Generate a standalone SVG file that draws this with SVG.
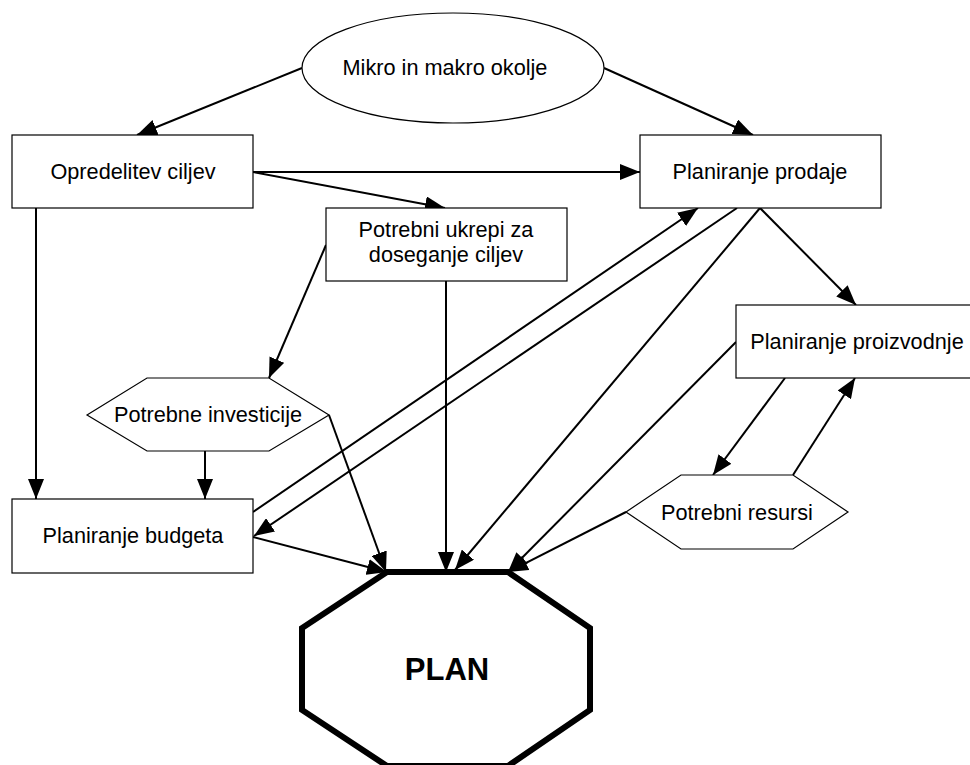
<svg xmlns="http://www.w3.org/2000/svg" width="970" height="765" viewBox="0 0 970 765">
  <style>
    .box { fill: #ffffff; stroke: #000000; stroke-width: 1.2; }
    .lbl { font-family: "Liberation Sans", Arial, sans-serif; font-size: 21.7px; fill: #000000; text-anchor: middle; }
    .big { font-family: "Liberation Sans", Arial, sans-serif; font-size: 31px; font-weight: bold; fill: #000000; text-anchor: middle; }
    .edge { stroke: #000000; stroke-width: 2; fill: none; marker-end: url(#head); }
  </style>
  <defs>
    <marker id="head" markerUnits="userSpaceOnUse" markerWidth="21" markerHeight="16" viewBox="0 0 21 16" refX="20" refY="8" orient="auto">
      <path d="M0,0 L20,8 L0,16 Z" fill="#000000"/>
    </marker>
  </defs>
  <rect width="970" height="765" fill="#ffffff"/>

  <!-- connectors -->
  <g id="connectors">
    <line class="edge" x1="302" y1="68" x2="137" y2="135"/>
    <line class="edge" x1="604" y1="68" x2="753" y2="135"/>
    <line class="edge" x1="253" y1="172" x2="640" y2="172"/>
    <line class="edge" x1="253" y1="172" x2="445" y2="208"/>
    <line class="edge" x1="36" y1="208" x2="36" y2="499"/>
    <line class="edge" x1="326" y1="245" x2="269" y2="378"/>
    <line class="edge" x1="446" y1="281" x2="446" y2="572"/>
    <line class="edge" x1="205" y1="451" x2="205" y2="499"/>
    <line class="edge" x1="329" y1="415" x2="386" y2="572"/>
    <line class="edge" x1="253" y1="537" x2="387" y2="572"/>
    <line class="edge" x1="253" y1="512" x2="698" y2="208"/>
    <line class="edge" x1="737" y1="208" x2="254" y2="536"/>
    <line class="edge" x1="760" y1="208" x2="455" y2="570"/>
    <line class="edge" x1="760" y1="208" x2="856" y2="305"/>
    <line class="edge" x1="736" y1="342" x2="508" y2="572"/>
    <line class="edge" x1="785" y1="378" x2="713" y2="475"/>
    <line class="edge" x1="793" y1="475" x2="855" y2="378"/>
    <line class="edge" x1="626" y1="512" x2="508" y2="572"/>
  </g>

  <g id="okolje">
    <ellipse class="box" cx="453" cy="68" rx="151" ry="55"/>
    <text class="lbl" x="445" y="75">Mikro in makro okolje</text>
  </g>

  <g id="cilji">
    <rect class="box" x="12" y="135" width="241" height="73"/>
    <text class="lbl" x="133" y="179">Opredelitev ciljev</text>
  </g>

  <g id="prodaja">
    <rect class="box" x="640" y="135" width="241" height="73"/>
    <text class="lbl" x="760" y="179">Planiranje prodaje</text>
  </g>

  <g id="ukrepi">
    <rect class="box" x="326" y="208" width="241" height="73"/>
    <text class="lbl" x="446" y="237">Potrebni ukrepi za</text>
    <text class="lbl" x="446" y="262">doseganje ciljev</text>
  </g>

  <g id="proizvodnja">
    <rect class="box" x="736" y="305" width="241" height="73"/>
    <text class="lbl" x="857" y="349">Planiranje proizvodnje</text>
  </g>

  <g id="investicije">
    <polygon class="box" points="87,415 147,378 269,378 329,415 269,451 147,451"/>
    <text class="lbl" x="208" y="422">Potrebne investicije</text>
  </g>

  <g id="budget">
    <rect class="box" x="12" y="499" width="241" height="74"/>
    <text class="lbl" x="133" y="543">Planiranje budgeta</text>
  </g>

  <g id="resursi">
    <polygon class="box" points="626,512 681,475 793,475 848,512 793,549 681,549"/>
    <text class="lbl" x="737" y="520">Potrebni resursi</text>
  </g>

  <g id="plan">
    <polygon points="387,572 508,572 590,628 590,710 508,766 387,766 302,710 302,628" fill="#ffffff" stroke="#000000" stroke-width="6" stroke-linejoin="miter"/>
    <text class="big" x="447" y="680">PLAN</text>
  </g>
</svg>
